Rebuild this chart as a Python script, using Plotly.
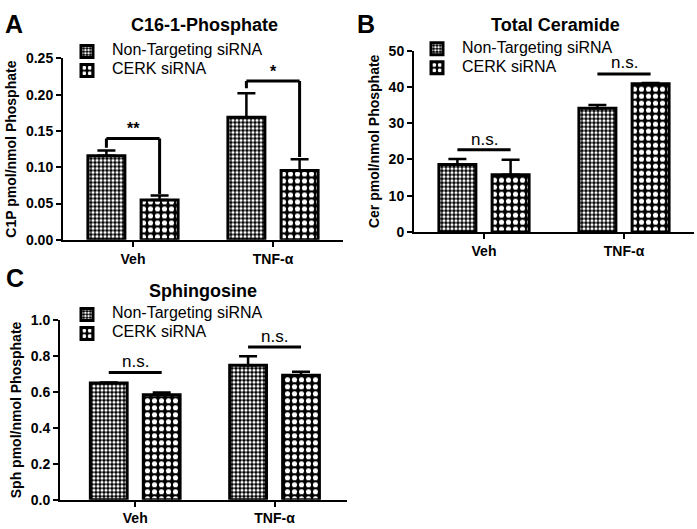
import plotly.graph_objects as go

groups = ["Veh", "TNF-α"]
series = ["Non-Targeting siRNA", "CERK siRNA"]

# C16-1-Phosphate
c1p_nt = [0.116, 0.169]
c1p_nt_top = [0.123, 0.202]
c1p_cerk = [0.055, 0.0955]
c1p_cerk_top = [0.061, 0.111]

# Total ceramide
cer_nt = [18.6, 34.1]
cer_nt_top = [20.1, 35.0]
cer_cerk = [15.8, 40.9]
cer_cerk_top = [19.9, 41.1]

# Sphingosine
sph_nt = [0.650, 0.749]
sph_nt_top = [0.653, 0.799]
sph_cerk = [0.585, 0.693]
sph_cerk_top = [0.598, 0.713]

# significance brackets: bar height, left leg end, right leg end, label, label y
c1p_sig = [(0.1395, 0.127, 0.063, "**", 0.153), (0.219, 0.209, 0.114, "*", 0.232)]
cer_sig = [(22.7, "n.s.", 25.6), (43.6, "n.s.", 46.6)]
sph_sig = [(0.709, "n.s.", 0.770), (0.851, "n.s.", 0.909)]

FONT = "Arial, Liberation Sans, sans-serif"
W, H = 697, 529
OFF = 0.19  # bar centre offset from group centre

patterns = [dict(shape=".", fgcolor="white", bgcolor="black", fgopacity=1, size=4, solidity=0.5),
            dict(shape=".", fgcolor="white", bgcolor="black", fgopacity=1, size=7, solidity=0.42)]

fig = go.Figure()

panels = [
    ("x", "y", "legend", [c1p_nt, c1p_cerk], [c1p_nt_top, c1p_cerk_top]),
    ("x2", "y2", "legend2", [cer_nt, cer_cerk], [cer_nt_top, cer_cerk_top]),
    ("x3", "y3", "legend3", [sph_nt, sph_cerk], [sph_nt_top, sph_cerk_top]),
]

for xa, ya, lg, vals, tops in panels:
    for i in range(2):
        fig.add_trace(go.Bar(
            x=groups, y=vals[i], xaxis=xa, yaxis=ya, legend=lg,
            name='<span style="font-size:16px">' + series[i] + '</span>',
            marker=dict(color="black", line=dict(color="black", width=3), pattern=patterns[i]),
            error_y=dict(type="data", symmetric=False,
                         array=[t - v for t, v in zip(tops[i], vals[i])],
                         arrayminus=[0, 0], color="black", thickness=2.5, width=9),
        ))

shapes = []
annos = []
# A brackets
for g, (top, l, r, txt, ty) in enumerate(c1p_sig):
    xl, xr = g - OFF, g + OFF
    for x0, y0, x1, y1 in [(xl, l, xl, top), (xl, top, xr, top), (xr, top, xr, r)]:
        shapes.append(dict(type="line", xref="x", yref="y", x0=x0, y0=y0, x1=x1, y1=y1,
                           line=dict(color="black", width=3)))
    annos.append(dict(xref="x", yref="y", x=g, y=ty, text="<b>" + txt + "</b>", showarrow=False,
                      font=dict(size=16, family=FONT, color="black"), yanchor="middle"))
for xa, ya, sig in [("x2", "y2", cer_sig), ("x3", "y3", sph_sig)]:
    for g, (yy, txt, ty) in enumerate(sig):
        shapes.append(dict(type="line", xref=xa, yref=ya, x0=g - OFF, x1=g + OFF, y0=yy, y1=yy,
                           line=dict(color="black", width=3)))
        annos.append(dict(xref=xa, yref=ya, x=g, y=ty, text=txt, showarrow=False,
                          font=dict(size=17, family=FONT, color="black"), yanchor="middle"))

# titles and panel letters
for txt, x, y in [("<b>C16-1-Phosphate</b>", 204, 18), ("<b>Total Ceramide</b>", 555, 18),
                  ("<b>Sphingosine</b>", 203, 292)]:
    annos.append(dict(xref="paper", yref="paper", x=x / W, y=1 - y / H, text=txt, showarrow=False,
                      font=dict(size=18, family=FONT, color="black"), xanchor="center", yanchor="middle"))
for txt, x, y in [("<b>A</b>", 14, 16), ("<b>B</b>", 366, 16), ("<b>C</b>", 15, 278)]:
    annos.append(dict(xref="paper", yref="paper", x=x / W, y=1 - y / H, text=txt, showarrow=False,
                      font=dict(size=25, family=FONT, color="black"), xanchor="center", yanchor="middle"))

fig.update_layout(
    width=W, height=H, margin=dict(l=0, r=0, t=0, b=0),
    paper_bgcolor="white", plot_bgcolor="white",
    font=dict(family=FONT, color="black"),
    barmode="group", bargap=0.24, bargroupgap=0.305,
    shapes=shapes, annotations=annos,
)

ax = dict(showline=True, linecolor="black", linewidth=2, ticks="outside", ticklen=5,
          tickwidth=2, tickcolor="black", showgrid=False, zeroline=False,
          tickfont=dict(size=14, family=FONT, color="black"))
fig.update_layout(
    xaxis=dict(ax, domain=[63 / W, 343 / W], range=[-0.5, 1.5], anchor="y", tickprefix="<b>", ticksuffix="</b>"),
    xaxis2=dict(ax, domain=[414 / W, 694 / W], range=[-0.5, 1.5], anchor="y2", tickprefix="<b>", ticksuffix="</b>"),
    xaxis3=dict(ax, domain=[60 / W, 347 / W], range=[-0.54, 1.52], anchor="y3", tickprefix="<b>", ticksuffix="</b>"),
    yaxis=dict(ax, domain=[1 - 239 / H, 1 - 52 / H], range=[0, 0.25], anchor="x", dtick=0.05,
               tickformat=".2f", tickprefix="<b>", ticksuffix="</b>",
               title=dict(text="<b>C1P pmol/nmol Phosphate</b>", font=dict(size=14, family=FONT), standoff=6)),
    yaxis2=dict(ax, domain=[1 - 231 / H, 1 - 44 / H], range=[0, 50], anchor="x2", dtick=10,
                tickprefix="<b>", ticksuffix="</b>",
                title=dict(text="<b>Cer pmol/nmol Phosphate</b>", font=dict(size=14, family=FONT), standoff=6)),
    yaxis3=dict(ax, domain=[1 - 507 / H, 1 - 322 / H], range=[0, 1.0], anchor="x3", dtick=0.2,
                tickformat=".1f", tickprefix="<b>", ticksuffix="</b>",
                title=dict(text="<b>Sph pmol/nmol Phosphate</b>", font=dict(size=14, family=FONT), standoff=6)),
)

leg = dict(font=dict(size=10, family=FONT, color="black"), bgcolor="rgba(0,0,0,0)",
           xanchor="left", yanchor="top", tracegroupgap=0, itemwidth=40)
fig.update_layout(
    legend=dict(leg, x=62 / W, y=1 - 30 / H),
    legend2=dict(leg, x=412 / W, y=1 - 27 / H),
    legend3=dict(leg, x=62 / W, y=1 - 301 / H),
)

fig.write_html("out.html", config={"displayModeBar": False},
               post_script="document.body.style.margin='0';")
